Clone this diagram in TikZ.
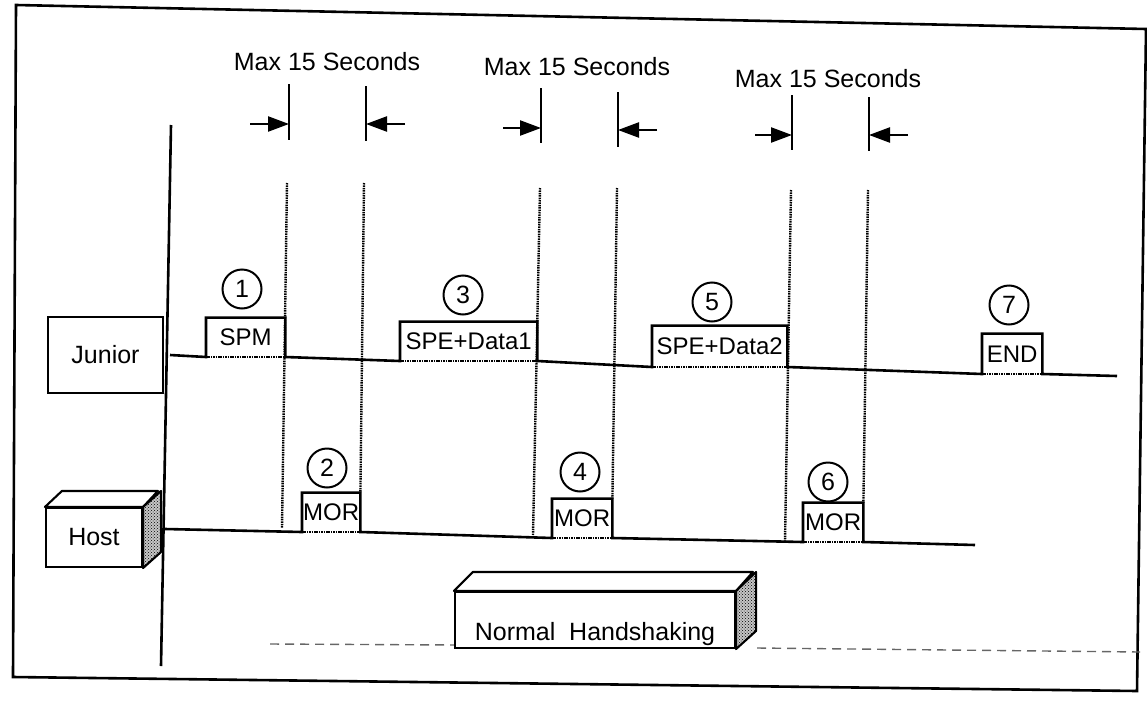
\documentclass[tikz,border=0pt]{standalone}
\usepackage{fontspec}
\setmainfont{Liberation Sans}
\usetikzlibrary{arrows.meta,patterns}
\tikzset{pulse/.style={inner sep=0pt,font=\fontsize{24}{24}\selectfont},
  num/.style={draw,circle,line width=2pt,minimum size=39pt,inner sep=0pt,font=\fontsize{25}{25}\selectfont},
  sig/.style={line width=2.6pt,line join=miter},
  base/.style={line width=2.4pt,dash pattern=on 1.5pt off 0.9pt},
  guide/.style={line width=2.4pt,dash pattern=on 1.5pt off 0.9pt},
  tick/.style={line width=2.3pt},
  arr/.style={-{Triangle[length=21pt,width=15pt]},line width=2.3pt},
  lbl/.style={font=\fontsize{25}{25}\selectfont},
  face/.style={draw,fill=white,line width=2.1pt,inner sep=0pt,font=\fontsize{25}{25}\selectfont},
  lid/.style={draw,fill=white,line width=2.1pt,line join=round},
  shade/.style={draw,line width=2.1pt,line join=round,preaction={fill=gray!45},pattern=crosshatch dots},
  dashline/.style={black!60,line width=1.4pt,dash pattern=on 9pt off 6pt}}

\begin{document}
\begin{tikzpicture}[x=1pt,y=-1pt]
\useasboundingbox (0,0) rectangle (1147,701);
\draw[sig] (16,5) -- (1146,29) -- (1137,691) -- (13,677) -- cycle;
% time axis
\coordinate (ax1) at (171,125);
\coordinate (ax2) at (161,666);
\draw[sig] (ax1) -- (ax2);
% units
\node[face,minimum width=115pt,minimum height=76pt] (junior) at (105.5,355) {Junior};
\node[face,minimum width=96pt,minimum height=59pt] (host) at (94,537.5) {Host};
\draw[lid] (host.north west) -- ++(17,-16) -- ++(96,0) -- (host.north east) -- cycle;
\draw[shade] (host.north east) -- ++(18,-16) -- ++(0,61) -- (host.south east) -- cycle;
% bottom dashed line
\coordinate (d1) at (270,644);
\coordinate (d2) at (455,645);
\coordinate (d3) at (757,648);
\coordinate (d4) at (1140,652);
\draw[dashline] (d1) -- (d2);
\draw[dashline] (d3) -- (d4);
\node[face,minimum width=280pt,minimum height=56pt,text height=42pt,text depth=2pt] (normal) at (595,620) {Normal\ \ Handshaking};
\draw[lid] (normal.north west) -- ++(19,-19) -- ++(280,0) -- (normal.north east) -- cycle;
\draw[shade] (normal.north east) -- ++(20,-19) -- ++(0,59) -- (normal.south east) -- cycle;
% junior pulses
\node[pulse,minimum width=79pt,minimum height=39pt,anchor=south west] (spm) at (206,357) {SPM};
\node[pulse,minimum width=137pt,minimum height=39pt,anchor=south west] (spe1) at (400,361) {SPE+Data1};
\node[pulse,minimum width=135pt,minimum height=41pt,anchor=south west] (spe2) at (652,367) {SPE+Data2};
\node[pulse,minimum width=60pt,minimum height=40pt,anchor=south west] (fin) at (982,374) {END};
\coordinate (jl) at (170,355);
\coordinate (jr) at (1117,376);
\draw[sig] (jl) -- (spm.south west) -- (spm.north west) -- (spm.north east) -- (spm.south east)
  -- (spe1.south west) -- (spe1.north west) -- (spe1.north east) -- (spe1.south east)
  -- (spe2.south west) -- (spe2.north west) -- (spe2.north east) -- (spe2.south east)
  -- (fin.south west) -- (fin.north west) -- (fin.north east) -- (fin.south east) -- (jr);
\draw[base] (spm.south west) -- (spm.south east);
\draw[base] (spe1.south west) -- (spe1.south east);
\draw[base] (spe2.south west) -- (spe2.south east);
\draw[base] (fin.south west) -- (fin.south east);
% host pulses
\node[pulse,minimum width=58pt,minimum height=39pt,anchor=south west] (mor2) at (302,532) {MOR};
\node[pulse,minimum width=60pt,minimum height=39pt,anchor=south west] (mor4) at (552,538) {MOR};
\node[pulse,minimum width=60pt,minimum height=39pt,anchor=south west] (mor6) at (803,542) {MOR};
\coordinate (hl) at (165,529);
\coordinate (hr) at (975,545);
\draw[sig] (hl) -- (mor2.south west) -- (mor2.north west) -- (mor2.north east) -- (mor2.south east)
  -- (mor4.south west) -- (mor4.north west) -- (mor4.north east) -- (mor4.south east)
  -- (mor6.south west) -- (mor6.north west) -- (mor6.north east) -- (mor6.south east) -- (hr);
\draw[base] (mor2.south west) -- (mor2.south east);
\draw[base] (mor4.south west) -- (mor4.south east);
\draw[base] (mor6.south west) -- (mor6.south east);
% step numbers
\node[num] (c1) at (242,289) {1};
\node[num] (c2) at (327,468) {2};
\node[num] (c3) at (463,295) {3};
\node[num] (c4) at (580,472) {4};
\node[num] (c5) at (712,302) {5};
\node[num] (c6) at (828,482) {6};
\node[num] (c7) at (1009,305) {7};
% time windows
\coordinate (g1t) at (287,183); \coordinate (g1b) at (282,528);
\coordinate (g2t) at (364,183);
\coordinate (g3t) at (540,188); \coordinate (g3b) at (533,535);
\coordinate (g4t) at (617,188);
\coordinate (g5t) at (791,190); \coordinate (g5b) at (785,541);
\coordinate (g6t) at (868,190);
\draw[guide] (g1t) -- (g1b);
\draw[guide] (g2t) -- (mor2.north east);
\draw[guide] (g3t) -- (g3b);
\draw[guide] (g4t) -- (mor4.north east);
\draw[guide] (g5t) -- (g5b);
\draw[guide] (g6t) -- (mor6.north east);
\coordinate (k1t) at (289,84); \coordinate (k1b) at (289,140); \coordinate (k1m) at (289,124);
\coordinate (k2t) at (366,86); \coordinate (k2b) at (366,141); \coordinate (k2m) at (366,124);
\coordinate (k3t) at (541,88); \coordinate (k3b) at (541,143); \coordinate (k3m) at (541,128);
\coordinate (k4t) at (618,92); \coordinate (k4b) at (618,147); \coordinate (k4m) at (618,130);
\coordinate (k5t) at (792,95); \coordinate (k5b) at (792,150); \coordinate (k5m) at (792,135);
\coordinate (k6t) at (869,97); \coordinate (k6b) at (869,151); \coordinate (k6m) at (869,135);
\draw[tick] (k1t) -- (k1b);
\draw[tick] (k2t) -- (k2b);
\draw[tick] (k3t) -- (k3b);
\draw[tick] (k4t) -- (k4b);
\draw[tick] (k5t) -- (k5b);
\draw[tick] (k6t) -- (k6b);
\coordinate (a1) at (250,124);
\coordinate (a2) at (405,124);
\coordinate (a3) at (503,128);
\coordinate (a4) at (657,130);
\coordinate (a5) at (755,135);
\coordinate (a6) at (908,135);
\draw[arr] (a1) -- (k1m);
\draw[arr] (a2) -- (k2m);
\draw[arr] (a3) -- (k3m);
\draw[arr] (a4) -- (k4m);
\draw[arr] (a5) -- (k5m);
\draw[arr] (a6) -- (k6m);
\node[lbl] (max1) at (327,62) {Max 15 Seconds};
\node[lbl] (max2) at (577,67) {Max 15 Seconds};
\node[lbl] (max3) at (828,79) {Max 15 Seconds};
\end{tikzpicture}
\end{document}
